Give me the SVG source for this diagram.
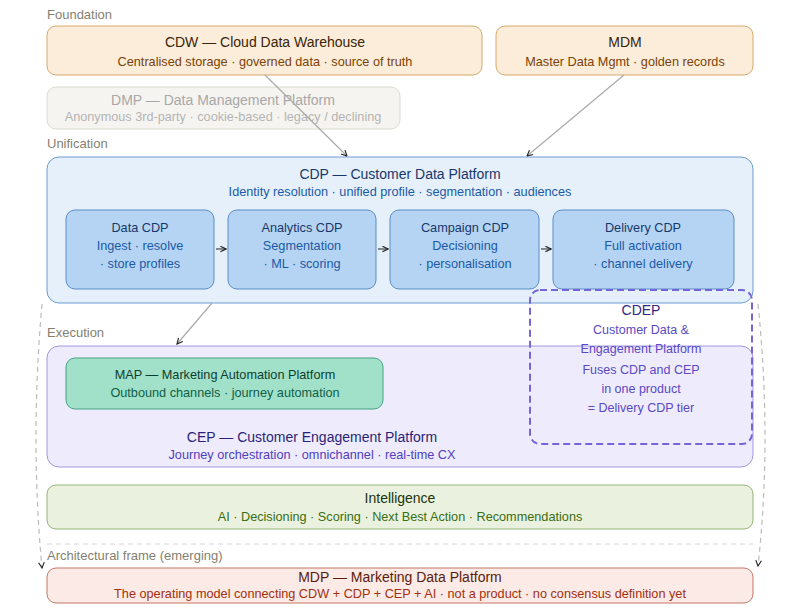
<svg xmlns="http://www.w3.org/2000/svg" width="800" height="612" viewBox="0 0 800 612">
<defs>
<style>
text{font-family:"Liberation Sans",Arial,sans-serif;text-anchor:middle}
.lbl{font-size:13px;fill:#857f70;text-anchor:start}
.t{font-size:14px}
.s{font-size:12.7px}
.c{font-size:12.5px;fill:#5a48c4}
.conn{fill:none;stroke:#aaa;stroke-width:1.2}
.dash{fill:none;stroke:#bbb;stroke-width:1.2;stroke-dasharray:5,4}
</style>
<marker id="ah" viewBox="0 0 10 10" refX="9" refY="5" markerWidth="7" markerHeight="7" orient="auto" markerUnits="userSpaceOnUse">
<path d="M1,1 L9,5 L1,9" fill="none" stroke="#222" stroke-width="1.6"/>
</marker>
</defs>
<rect width="800" height="612" fill="#fff"/>

<text class="lbl" x="47" y="19">Foundation</text>
<text class="lbl" x="47" y="148">Unification</text>
<text class="lbl" x="47" y="337">Execution</text>
<text class="lbl" x="47" y="560">Architectural frame (emerging)</text>

<g id="cdw">
<rect x="47" y="26" width="435" height="49" rx="9" fill="#fbedd9" stroke="#d8a868"/>
<text class="t" x="265" y="47" fill="#3a2508">CDW — Cloud Data Warehouse</text>
<text class="s" x="265" y="66" fill="#7a4208">Centralised storage · governed data · source of truth</text>
</g>
<g id="mdm">
<rect x="496" y="26" width="257" height="49" rx="9" fill="#fbedd9" stroke="#d8a868"/>
<text class="t" x="625" y="47" fill="#3a2508">MDM</text>
<text class="s" x="625" y="66" fill="#7a4208">Master Data Mgmt · golden records</text>
</g>
<g id="dmp">
<rect x="47" y="87" width="353" height="42" rx="9" fill="#f6f4f0" stroke="#dcdad4"/>
<text class="t" x="223" y="105" fill="#a8a8a8">DMP — Data Management Platform</text>
<text class="s" x="223" y="121" fill="#b4b4b4">Anonymous 3rd-party · cookie-based · legacy / declining</text>
</g>

<g id="cdp">
<rect x="47" y="157" width="706" height="146" rx="12" fill="#e6f0fa" stroke="#6c9bd2"/>
<text class="t" x="400" y="179" fill="#17386a">CDP — Customer Data Platform</text>
<text class="s" x="400" y="196" fill="#1a5aa6">Identity resolution · unified profile · segmentation · audiences</text>
</g>
<g id="data-cdp">
<rect x="66" y="210" width="148" height="79" rx="9" fill="#b5d4f3" stroke="#5b8cc4"/>
<text class="s" x="140" y="232" fill="#17386a">Data CDP</text>
<text class="s" x="140" y="250" fill="#1a5aa6">Ingest · resolve</text>
<text class="s" x="140" y="268" fill="#1a5aa6">· store profiles</text>
</g>
<g id="analytics-cdp">
<rect x="228" y="210" width="148" height="79" rx="9" fill="#b5d4f3" stroke="#5b8cc4"/>
<text class="s" x="302" y="232" fill="#17386a">Analytics CDP</text>
<text class="s" x="302" y="250" fill="#1a5aa6">Segmentation</text>
<text class="s" x="302" y="268" fill="#1a5aa6">· ML · scoring</text>
</g>
<g id="campaign-cdp">
<rect x="390" y="210" width="149" height="79" rx="9" fill="#b5d4f3" stroke="#5b8cc4"/>
<text class="s" x="465" y="232" fill="#17386a">Campaign CDP</text>
<text class="s" x="465" y="250" fill="#1a5aa6">Decisioning</text>
<text class="s" x="465" y="268" fill="#1a5aa6">· personalisation</text>
</g>
<g id="delivery-cdp">
<rect x="553" y="210" width="181" height="79" rx="9" fill="#b5d4f3" stroke="#5b8cc4"/>
<text class="s" x="643" y="232" fill="#17386a">Delivery CDP</text>
<text class="s" x="643" y="250" fill="#1a5aa6">Full activation</text>
<text class="s" x="643" y="268" fill="#1a5aa6">· channel delivery</text>
</g>

<g id="cep">
<rect x="47" y="346" width="706" height="121" rx="12" fill="#eeecfc" stroke="#a394e2"/>
<text class="t" x="312" y="442" fill="#2a1f78">CEP — Customer Engagement Platform</text>
<text class="s" x="312" y="459" fill="#5040c0">Journey orchestration · omnichannel · real-time CX</text>
</g>
<g id="map">
<rect x="66" y="358" width="317" height="51" rx="9" fill="#a2e1c9" stroke="#45a182"/>
<text class="s" x="225" y="379" fill="#0b3e30">MAP — Marketing Automation Platform</text>
<text class="s" x="225" y="397" fill="#0e5e48">Outbound channels · journey automation</text>
</g>
<g id="cdep">
<rect x="530" y="290" width="222" height="154" rx="10" fill="none" stroke="#7565d8" stroke-width="2" stroke-dasharray="7,4"/>
<text class="t" x="641" y="315" fill="#33287e">CDEP</text>
<text class="c" x="641" y="334">Customer Data &amp;</text>
<text class="c" x="641" y="353">Engagement Platform</text>
<text class="c" x="641" y="374">Fuses CDP and CEP</text>
<text class="c" x="641" y="393">in one product</text>
<text class="c" x="641" y="412">= Delivery CDP tier</text>
</g>

<g id="intelligence">
<rect x="47" y="485" width="706" height="44" rx="9" fill="#eaf2df" stroke="#93b475"/>
<text class="t" x="400" y="503" fill="#22330c">Intelligence</text>
<text class="s" x="400" y="521" fill="#3a6e12">AI · Decisioning · Scoring · Next Best Action · Recommendations</text>
</g>

<line x1="47" y1="544" x2="753" y2="544" stroke="#d6d6d6" stroke-dasharray="5,4"/>

<g id="mdp">
<rect x="47" y="568" width="706" height="35" rx="9" fill="#fbeae5" stroke="#c47765"/>
<text class="t" x="400" y="582" fill="#5a1c0c">MDP — Marketing Data Platform</text>
<text class="s" x="400" y="598" fill="#a3300f">The operating model connecting CDW + CDP + CEP + AI · not a product · no consensus definition yet</text>
</g>

<g id="connectors">
<line class="conn" x1="265" y1="75" x2="347" y2="156" marker-end="url(#ah)"/>
<line class="conn" x1="624" y1="75" x2="527" y2="156" marker-end="url(#ah)"/>
<line class="conn" x1="212" y1="303" x2="177" y2="344" marker-end="url(#ah)"/>
<line x1="216" y1="249" x2="226" y2="249" stroke="#222" stroke-width="1" marker-end="url(#ah)"/>
<line x1="378" y1="249" x2="388" y2="249" stroke="#222" stroke-width="1" marker-end="url(#ah)"/>
<line x1="541" y1="249" x2="551" y2="249" stroke="#222" stroke-width="1" marker-end="url(#ah)"/>
<path class="dash" d="M42,304 Q30,440 42,568" marker-end="url(#ah)"/>
<path class="dash" d="M758,304 Q772,440 758,566" marker-end="url(#ah)"/>
</g>
</svg>
